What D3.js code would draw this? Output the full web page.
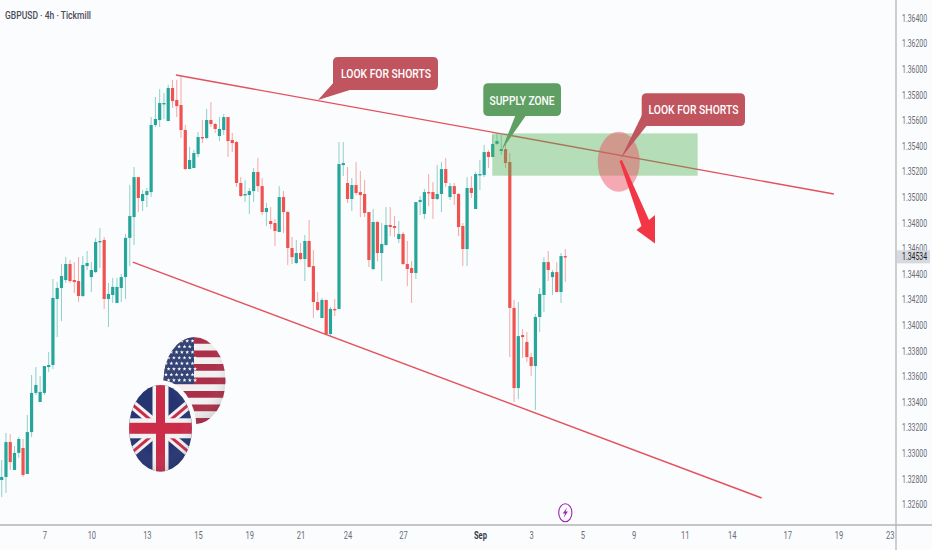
<!DOCTYPE html>
<html><head><meta charset="utf-8">
<style>html,body{margin:0;padding:0;background:#fbfcfe}svg{display:block}</style>
<script src="https://cdn.jsdelivr.net/npm/d3@7/dist/d3.min.js"></script>
</head><body><svg id="c" width="932" height="550"></svg>
<script>
const open=[1.32791,1.32814,1.33087,1.32869,1.33002,1.33041,1.32838,1.33165,1.33471,1.33400,
1.33471,1.33673,1.33689,1.34205,1.34291,1.34353,1.34478,1.34353,1.34345,1.34228,
1.34462,1.34376,1.34415,1.34650,1.34666,1.34205,1.34236,1.34174,1.34291,1.34376,
1.34682,1.34845,1.35157,1.34970,1.35017,1.35040,1.35564,1.35603,1.35728,1.35595,
1.35853,1.35759,1.35720,1.35525,1.35220,1.35228,1.35337,1.35470,1.35462,1.35603,
1.35572,1.35478,1.35525,1.35626,1.35447,1.35431,1.35111,1.35017,1.35017,1.35048,
1.35197,1.35087,1.34884,1.34814,1.34798,1.34728,1.35001,1.34884,1.34603,1.34486,
1.34564,1.34517,1.34658,1.34462,1.34181,1.34056,1.34197,1.33931,1.34127,1.34127,
1.35251,1.35111,1.34986,1.35095,1.35040,1.35025,1.34884,1.34439,1.34806,1.34564,
1.34627,1.34783,1.34775,1.34673,1.34713,1.34478,1.34447,1.34408,1.34962,1.34869,
1.35040,1.35040,1.34986,1.35025,1.35220,1.35001,1.35087,1.35025,1.34775,1.34595,
1.35072,1.34908,1.35173,1.35173,1.35353,1.35314,1.35416,1.35361,1.35376,1.35275,
1.34135,1.33509,1.33923,1.33869,1.33751,1.33681,1.34064,1.34236,1.34493,1.34376,
1.34415,1.34259,1.34540];
const high=[1.32947,1.33158,1.33150,1.33056,1.33126,1.33111,1.33299,1.33611,1.33673,1.33603,
1.33681,1.33790,1.34361,1.34337,1.34478,1.34532,1.34509,1.34493,1.34532,1.34540,
1.34580,1.34493,1.34682,1.34760,1.34689,1.34330,1.34369,1.34369,1.34400,1.34713,
1.35095,1.35236,1.35157,1.35056,1.35072,1.35626,1.35783,1.35845,1.35814,1.35877,
1.35916,1.35916,1.35939,1.35564,1.35392,1.35369,1.35509,1.35603,1.35689,1.35744,
1.35580,1.35626,1.35650,1.35626,1.35502,1.35439,1.35157,1.35134,1.35072,1.35228,
1.35306,1.35150,1.34955,1.34923,1.34830,1.35087,1.35048,1.34892,1.34689,1.34666,
1.34642,1.34705,1.34822,1.34587,1.34259,1.34213,1.34197,1.34142,1.34205,1.35431,
1.35431,1.35236,1.35150,1.35275,1.35205,1.35134,1.34884,1.34908,1.34814,1.34798,
1.34923,1.34923,1.34853,1.34814,1.34728,1.34658,1.34501,1.34962,1.35009,1.35064,
1.35181,1.35119,1.35251,1.35275,1.35306,1.35111,1.35111,1.35033,1.34798,1.35157,
1.35165,1.35197,1.35291,1.35408,1.35369,1.35486,1.35502,1.35486,1.35423,1.35345,
1.34197,1.34181,1.33970,1.33947,1.33783,1.34088,1.34291,1.34532,1.34580,1.34431,
1.34493,1.34564,1.34595];
const low=[1.32658,1.32690,1.32869,1.32869,1.32963,1.32814,1.32838,1.33126,1.33455,1.33400,
1.33455,1.33634,1.33658,1.33907,1.34033,1.34330,1.34330,1.34252,1.34181,1.34220,
1.34431,1.34259,1.34408,1.34447,1.34127,1.33986,1.34174,1.34174,1.34181,1.34205,
1.34462,1.34627,1.34884,1.34892,1.34923,1.35001,1.35549,1.35549,1.35611,1.35595,
1.35697,1.35626,1.35462,1.35212,1.35220,1.35228,1.35314,1.35423,1.35455,1.35549,
1.35502,1.35439,1.35486,1.35314,1.35353,1.35080,1.35001,1.34962,1.34869,1.34962,
1.35040,1.34861,1.34775,1.34751,1.34619,1.34728,1.34720,1.34470,1.34478,1.34478,
1.34509,1.34345,1.34454,1.34056,1.34111,1.34056,1.33923,1.33907,1.34072,1.34127,
1.35165,1.34955,1.34892,1.35017,1.34845,1.34845,1.34454,1.34431,1.34501,1.34345,
1.34619,1.34697,1.34689,1.34642,1.34470,1.34306,1.34174,1.34361,1.34861,1.34830,
1.34931,1.34830,1.34978,1.34884,1.35080,1.34978,1.34939,1.34697,1.34462,1.34462,
1.34994,1.34908,1.35056,1.35157,1.35228,1.35314,1.35408,1.35330,1.35228,1.33751,
1.33400,1.33423,1.33744,1.33712,1.33603,1.33338,1.33947,1.34103,1.34345,1.34236,
1.34259,1.34174,1.34337];
const close=[1.32814,1.33087,1.32931,1.33002,1.33111,1.32830,1.33165,1.33471,1.33533,1.33478,
1.33681,1.33689,1.34213,1.34291,1.34384,1.34478,1.34345,1.34337,1.34228,1.34470,
1.34486,1.34431,1.34650,1.34658,1.34205,1.34244,1.34299,1.34299,1.34376,1.34682,
1.34853,1.35157,1.34994,1.35025,1.35048,1.35564,1.35611,1.35736,1.35736,1.35853,
1.35751,1.35712,1.35525,1.35220,1.35291,1.35345,1.35470,1.35462,1.35603,1.35572,
1.35533,1.35533,1.35626,1.35439,1.35423,1.35111,1.35009,1.35025,1.35048,1.35197,
1.35087,1.34884,1.34915,1.34790,1.34736,1.35001,1.34884,1.34603,1.34532,1.34564,
1.34517,1.34658,1.34454,1.34181,1.34119,1.34197,1.33931,1.34127,1.34123,1.35259,
1.35267,1.34986,1.35095,1.35033,1.35017,1.34877,1.34509,1.34806,1.34564,1.34634,
1.34783,1.34767,1.34760,1.34713,1.34478,1.34439,1.34408,1.34962,1.34978,1.35040,
1.35033,1.34986,1.35025,1.35220,1.35111,1.35087,1.35025,1.34767,1.34595,1.35072,
1.35033,1.35181,1.35181,1.35353,1.35314,1.35416,1.35439,1.35376,1.35267,1.34135,
1.33509,1.33915,1.33907,1.33751,1.33681,1.34064,1.34244,1.34493,1.34431,1.34415,
1.34259,1.34540,1.34534];
const priceTicks=[1.364,1.362,1.36,1.358,1.356,1.354,1.352,1.35,1.348,1.346,1.344,1.342,1.34,1.338,1.336,1.334,1.332,1.33,1.328,1.326];
const dateLabels=["7","10","13","15","19","21","24","27","Sep","3","5","9","11","14","17","19","23"];
const dateBars=[10,21,34,46,58,70,81,94,112,124,136,148,160,171,184,196,208];
const lastPrice=1.34534;
const upperTrend=[[40.8,1.35955],[194.9,1.35025]];
const lowerTrend=[[30.7,1.34493],[178,1.3265]];
const zoneBars=[114.9,163];
const zonePrices=[1.35499,1.35168];

const svg=d3.select("#c");
const W=932,H=550,axisX=896,axisY=525;
const x=d3.scaleLinear().domain([0,132]).range([1.7,565.3]);
const y=d3.scaleLinear().domain([1.364,1.326]).range([18,504.4]);
const GREEN="#26a69a",RED="#ef5350";
const AXFONT="Roboto,sans-serif";
const SQUEEZE=0.66;

svg.append("rect").attr("width",W).attr("height",H).attr("fill","#fbfcfe");

const defs=svg.append("defs");
defs.append("clipPath").attr("id","plot").append("rect").attr("width",axisX).attr("height",axisY);
defs.append("clipPath").attr("id","us").append("ellipse").attr("cx",194.5).attr("cy",380.7).attr("rx",31).attr("ry",43.5);
defs.append("clipPath").attr("id","uk").append("ellipse").attr("cx",160.5).attr("cy",428.3).attr("rx",31.5).attr("ry",43.3);
const shade=defs.append("radialGradient").attr("id","shade").attr("cx","45%").attr("cy","40%").attr("r","70%");
shade.append("stop").attr("offset","55%").attr("stop-color","#fff").attr("stop-opacity",0.05);
shade.append("stop").attr("offset","100%").attr("stop-color","#223").attr("stop-opacity",0.25);

const plot=svg.append("g").attr("clip-path","url(#plot)");
const idx=d3.range(close.length);
plot.append("g").selectAll("line").data(idx).join("line")
 .attr("x1",i=>x(i)).attr("x2",i=>x(i)).attr("y1",i=>y(high[i])).attr("y2",i=>y(low[i]))
 .attr("stroke",i=>close[i]>=open[i]?GREEN:RED).attr("stroke-width",1).attr("stroke-opacity",0.5);
plot.append("g").selectAll("rect").data(idx).join("rect")
 .attr("x",i=>x(i)-1.6).attr("width",3.2)
 .attr("y",i=>y(Math.max(open[i],close[i])))
 .attr("height",i=>Math.max(1.4,Math.abs(y(open[i])-y(close[i]))))
 .attr("fill",i=>close[i]>=open[i]?GREEN:RED);

// trend lines
const trend=d3.line().x(d=>x(d[0])).y(d=>y(d[1]));
[upperTrend,lowerTrend].forEach(t=>plot.append("path").attr("d",trend(t)).attr("fill","none").attr("stroke","#e4505c").attr("stroke-width",1.4));

// supply zone
plot.append("rect").attr("x",x(zoneBars[0])).attr("width",x(zoneBars[1])-x(zoneBars[0]))
 .attr("y",y(zonePrices[0])).attr("height",y(zonePrices[1])-y(zonePrices[0]))
 .attr("fill","#4caf50").attr("fill-opacity",0.4);

// highlight ellipse
plot.append("ellipse").attr("cx",618.7).attr("cy",161.7).attr("rx",21).attr("ry",30).attr("fill","#ef5060").attr("fill-opacity",0.48);

// down arrow
plot.append("path").attr("d","M619.5,161 L641.5,226 L636.5,230 L655,243.5 L655,215 L649,220 L622,160 Z").attr("fill","#f23645");

// callouts
function callout(x0,y0,x1,y1,ptr,fill){
 const r=5;
 const body=d3.path();
 body.moveTo(x0+r,y0);body.lineTo(x1-r,y0);body.quadraticCurveTo(x1,y0,x1,y0+r);
 body.lineTo(x1,y1-r);body.quadraticCurveTo(x1,y1,x1-r,y1);
 body.lineTo(x0+r,y1);body.quadraticCurveTo(x0,y1,x0,y1-r);
 body.lineTo(x0,y0+r);body.quadraticCurveTo(x0,y0,x0+r,y0);body.closePath();
 plot.append("path").attr("d",body.toString()).attr("fill",fill);
 plot.append("path").attr("d","M"+ptr.join("L")+"Z").attr("fill",fill);
}
function label(t,cx,cy,w){
 svg.append("text").text(t).attr("x",cx).attr("y",cy).attr("text-anchor","middle").attr("dominant-baseline","central")
  .attr("font-family","Roboto,sans-serif").attr("font-size",13.5).attr("font-weight",500).attr("fill","#fff")
  .attr("textLength",w).attr("lengthAdjust","spacingAndGlyphs");
}
callout(333,57,438,90,[[318,100],[336,80],[353,89]],"#c0555f");
callout(483.3,83.3,561,116,[[501.7,150],[516,114],[527,114]],"#5f9f63");
callout(641.7,93.3,745,126,[[621,158],[642,115],[648,124]],"#c0555f");
label("LOOK FOR SHORTS",386,73,90);
label("SUPPLY ZONE",522,99.5,65);
label("LOOK FOR SHORTS",693.5,109,90);

// US flag
const us=svg.append("g").attr("clip-path","url(#us)");
us.append("rect").attr("x",163).attr("y",337).attr("width",64).attr("height",88).attr("fill","#f0f0f0");
d3.range(13).filter(k=>k%2===0).forEach(k=>us.append("rect").attr("x",163).attr("y",337+k*6.75).attr("width",64).attr("height",6.75).attr("fill","#a8243f"));
us.append("rect").attr("x",163).attr("y",337).attr("width",31).attr("height",47).attr("fill","#2a3a6e");
d3.range(8).forEach(r=>d3.range(6).forEach(c=>{
 us.append("path").attr("d",d3.symbol(d3.symbolStar,5)()).attr("fill","#fff")
  .attr("transform",`translate(${166+c*5.3+(r%2?2.6:0)},${341+r*5.6})`);
}));
us.append("ellipse").attr("cx",194.5).attr("cy",380.7).attr("rx",31).attr("ry",43.5).attr("fill","url(#shade)");

// halo + UK flag
svg.append("ellipse").attr("cx",160.5).attr("cy",428.3).attr("rx",36).attr("ry",48).attr("fill","#fbfcfe");
const uk=svg.append("g").attr("clip-path","url(#uk)");
const ux0=129,uy0=385,ucx=160.5,ucy=428.3,dx=45,dy=38;
uk.append("rect").attr("x",ux0).attr("y",uy0).attr("width",63).attr("height",87).attr("fill","#1b2a6b");
[[ucx-dx,ucy-dy,ucx+dx,ucy+dy],[ucx-dx,ucy+dy,ucx+dx,ucy-dy]].forEach(a=>{
 uk.append("line").attr("x1",a[0]).attr("y1",a[1]).attr("x2",a[2]).attr("y2",a[3]).attr("stroke","#f1f1f1").attr("stroke-width",9);
 uk.append("line").attr("x1",a[0]).attr("y1",a[1]).attr("x2",a[2]).attr("y2",a[3]).attr("stroke","#c8213f").attr("stroke-width",3);
});
uk.append("rect").attr("x",ux0).attr("y",ucy-10).attr("width",63).attr("height",20).attr("fill","#f1f1f1");
uk.append("rect").attr("x",ucx-8).attr("y",uy0).attr("width",16).attr("height",87).attr("fill","#f1f1f1");
uk.append("rect").attr("x",ux0).attr("y",ucy-5.5).attr("width",63).attr("height",11).attr("fill","#c8213f");
uk.append("rect").attr("x",ucx-4.5).attr("y",uy0).attr("width",9).attr("height",87).attr("fill","#c8213f");
uk.append("ellipse").attr("cx",160.5).attr("cy",428.3).attr("rx",31.5).attr("ry",43.3).attr("fill","url(#shade)");

// axes frame
svg.append("line").attr("x1",axisX).attr("x2",axisX).attr("y1",0).attr("y2",H).attr("stroke","#b4b5b9").attr("stroke-width",1.3);
svg.append("line").attr("x1",0).attr("x2",W).attr("y1",axisY).attr("y2",axisY).attr("stroke","#b4b5b9").attr("stroke-width",1.3);

// y axis
const yAxis=d3.axisRight(y).tickValues(priceTicks).tickFormat(d3.format(".5f")).tickSize(0).tickPadding(6);
const gy=svg.append("g").attr("transform",`translate(${axisX},0)`).call(yAxis);
gy.select(".domain").remove();
gy.selectAll("text").attr("font-family",AXFONT).attr("font-size",10.5).attr("fill","#6a6d78")
 .attr("x",0).attr("transform",`translate(6,0) scale(${SQUEEZE},1)`);

// x axis
const labelOf=new Map(dateBars.map((b,i)=>[b,dateLabels[i]]));
const xAxis=d3.axisBottom(x).tickValues(dateBars).tickFormat(b=>labelOf.get(b)).tickSize(0).tickPadding(7);
const gx=svg.append("g").attr("transform",`translate(0,${axisY})`).call(xAxis);
gx.select(".domain").remove();
gx.selectAll("text").attr("font-family",AXFONT).attr("font-size",10.5).attr("fill",d=>labelOf.get(d)==="Sep"?"#3a3d48":"#6a6d78").attr("font-weight",d=>labelOf.get(d)==="Sep"?700:400)
 .attr("transform",`scale(0.72,1)`);

// last price
svg.append("rect").attr("x",axisX+1).attr("y",y(lastPrice)-6.5).attr("width",33).attr("height",13).attr("fill","#d6d9df");
svg.append("text").text(d3.format(".5f")(lastPrice)).attr("dominant-baseline","central")
 .attr("transform",`translate(${axisX+6},${y(lastPrice)}) scale(${SQUEEZE},1)`)
 .attr("font-family",AXFONT).attr("font-size",10.5).attr("fill","#1c1f2a");

// title
svg.append("text").text("GBPUSD · 4h · Tickmill").attr("x",5).attr("y",15).attr("dominant-baseline","central")
 .attr("font-family","Roboto,sans-serif").attr("font-size",11).attr("font-weight",500).attr("fill","#4a4d58")
 .attr("textLength",86).attr("lengthAdjust","spacingAndGlyphs");

// event badge
svg.append("ellipse").attr("cx",565.3).attr("cy",512.7).attr("rx",6.6).attr("ry",9).attr("fill","#fbfcfe").attr("stroke","#9c27b0").attr("stroke-width",1.1);
svg.append("path").attr("d","M567,507.5 L562.7,513.6 L565.1,513.6 L563.6,517.9 L567.9,511.6 L565.5,511.6 Z").attr("fill","#9c27b0");
</script></body></html>
